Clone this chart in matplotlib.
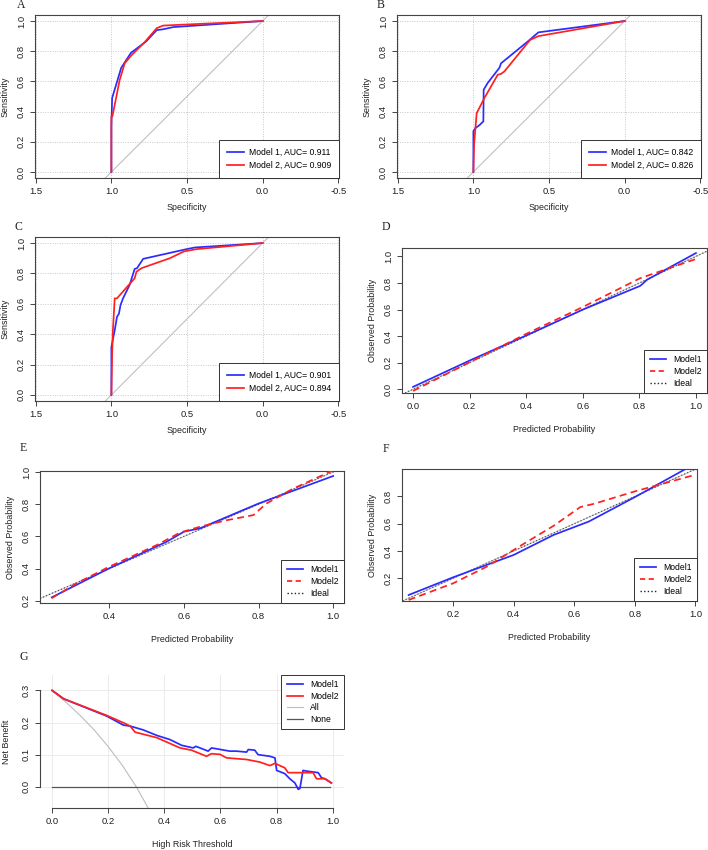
import matplotlib
matplotlib.use("Agg")
import matplotlib.pyplot as plt

plt.rcParams['font.family'] = ['Liberation Sans', 'DejaVu Sans']

W, H = 708, 850
DPI = 100

# ---------------- DATA ----------------
# ROC A
a_m1_spec = [1.0, 1.0, 1.0, 0.995, 0.935, 0.87, 0.77, 0.70, 0.66, 0.59, 0.0]
a_m1_sens = [0.0, 0.17, 0.30, 0.49, 0.69, 0.79, 0.865, 0.94, 0.945, 0.96, 1.0]
a_m2_spec = [1.0, 1.0, 0.993, 0.945, 0.912, 0.87, 0.78, 0.70, 0.658, 0.0]
a_m2_sens = [0.0, 0.37, 0.37, 0.61, 0.72, 0.77, 0.86, 0.953, 0.97, 1.0]
a_auc = ["0.911", "0.909"]

# ROC B
b_m1_spec = [1.0, 1.0, 0.987, 0.96, 0.934, 0.932, 0.905, 0.828, 0.817, 0.64, 0.57, 0.0]
b_m1_sens = [0.0, 0.27, 0.29, 0.31, 0.335, 0.545, 0.59, 0.69, 0.72, 0.865, 0.925, 1.0]
b_m2_spec = [1.0, 0.995, 0.978, 0.927, 0.839, 0.817, 0.795, 0.625, 0.57, 0.0]
b_m2_sens = [0.0, 0.19, 0.39, 0.49, 0.644, 0.65, 0.666, 0.875, 0.90, 1.0]
b_auc = ["0.842", "0.826"]

# ROC C
c_m1_spec = [1.0, 1.0, 0.978, 0.963, 0.95, 0.94, 0.923, 0.879, 0.846, 0.83, 0.79, 0.503, 0.448, 0.0]
c_m1_sens = [0.0, 0.315, 0.425, 0.514, 0.535, 0.59, 0.636, 0.725, 0.83, 0.835, 0.896, 0.96, 0.971, 1.0]
c_m2_spec = [1.0, 0.995, 0.99, 0.978, 0.963, 0.846, 0.834, 0.80, 0.614, 0.52, 0.437, 0.0]
c_m2_sens = [0.0, 0.27, 0.425, 0.636, 0.636, 0.768, 0.812, 0.835, 0.90, 0.945, 0.96, 1.0]
c_auc = ["0.901", "0.894"]

# Calibration D
d_m1_x = [0.0, 0.203, 0.403, 0.603, 0.803, 0.827, 1.0]
d_m1_y = [0.018, 0.219, 0.408, 0.602, 0.778, 0.824, 1.025]
d_m2_x = [0.0, 0.203, 0.403, 0.603, 0.803, 0.897, 1.0]
d_m2_y = [-0.013, 0.207, 0.42, 0.622, 0.836, 0.905, 0.98]

# Calibration E
e_m1_x = [0.2455, 0.40, 0.554, 0.60, 0.643, 0.80, 1.0]
e_m1_y = [0.221, 0.402, 0.567, 0.629, 0.65, 0.804, 0.975]
e_m2_x = [0.2455, 0.3125, 0.40, 0.527, 0.589, 0.643, 0.714, 0.786, 0.821, 0.893, 1.0]
e_m2_y = [0.216, 0.309, 0.412, 0.546, 0.623, 0.66, 0.70, 0.732, 0.804, 0.897, 1.01]

# Calibration F
f_m1_x = [0.0535, 0.20, 0.40, 0.532, 0.648, 0.80, 0.973]
f_m1_y = [0.0775, 0.207, 0.371, 0.518, 0.616, 0.795, 1.008]
f_m2_x = [0.0535, 0.20, 0.312, 0.40, 0.532, 0.62, 0.665, 0.80, 1.0]
f_m2_y = [0.041, 0.163, 0.286, 0.408, 0.585, 0.722, 0.746, 0.837, 0.959]

# Decision curve G
g_m1_t = [0.0, 0.041, 0.195, 0.254, 0.278, 0.325, 0.373, 0.42, 0.462, 0.503, 0.512, 0.527,
          0.556, 0.568, 0.633, 0.657, 0.693, 0.699, 0.722, 0.734, 0.776, 0.794, 0.80, 0.829,
          0.847, 0.865, 0.877, 0.883, 0.894, 0.906, 0.948, 0.96, 0.972, 0.995]
g_m1_nb = [0.30, 0.274, 0.22, 0.192, 0.189, 0.177, 0.16, 0.147, 0.129, 0.121, 0.126, 0.121,
           0.111, 0.121, 0.111, 0.111, 0.108, 0.116, 0.114, 0.10, 0.095, 0.09, 0.051, 0.041,
           0.025, 0.012, -0.008, -0.005, 0.051, 0.049, 0.044, 0.028, 0.025, 0.012]
g_m2_t = [0.0, 0.041, 0.195, 0.26, 0.278, 0.296, 0.373, 0.456, 0.497, 0.55, 0.568, 0.598,
          0.622, 0.693, 0.74, 0.776, 0.794, 0.829, 0.841, 0.93, 0.942, 0.972, 0.995]
g_m2_nb = [0.30, 0.274, 0.222, 0.197, 0.189, 0.17, 0.153, 0.121, 0.114, 0.095, 0.103, 0.101,
           0.09, 0.085, 0.077, 0.066, 0.073, 0.059, 0.044, 0.044, 0.025, 0.025, 0.012]
g_all_t = [0.0, 0.05, 0.10, 0.15, 0.20, 0.25, 0.30, 0.345]
g_all_nb = [0.30, 0.263, 0.222, 0.177, 0.125, 0.067, 0.0, -0.07]
g_none_t = [0.0, 0.99]
g_none_nb = [0.0, 0.0]

roc_xticks = [1.5, 1.0, 0.5, 0.0, -0.5]
roc_yticks = [0.0, 0.2, 0.4, 0.6, 0.8, 1.0]

# ---------------- STYLE ----------------
BLUE = '#2B2BFF'
RED = '#FF2020'
FRAME = '#444444'
TICK_FS = 6.8
LAB_FS = 6.4
LEG_FS = 6.2

fig = plt.figure(figsize=(W / DPI, H / DPI), dpi=DPI)


def rect(l, t, r, b):
    return [l / W, 1 - b / H, (r - l) / W, (b - t) / H]


def style_axes(ax, box=True):
    for s in ax.spines.values():
        s.set_color(FRAME)
        s.set_linewidth(0.8)
        s.set_visible(box)
    ax.tick_params(axis='both', direction='out', length=3.5, width=0.7, color=FRAME,
                   labelsize=TICK_FS, labelcolor='#222222', pad=3)
    ax.tick_params(axis='y', labelrotation=90)
    for lbl in ax.get_yticklabels():
        lbl.set_va('center')


def fmt(v):
    return f"{v:.1f}"


def letter(x, y, s):
    fig.text(x / W, 1 - y / H, s, family='Liberation Serif', fontsize=8.5,
             ha='center', va='center', color='#222222')


def small_legend(ax, handles, labels, loc, anchor, spacing):
    leg = ax.legend(handles, labels, loc=loc, bbox_to_anchor=anchor, borderaxespad=0,
                    fontsize=LEG_FS, frameon=True, fancybox=False, edgecolor='#333333',
                    framealpha=1, handlelength=1.95, borderpad=0.6, labelspacing=spacing,
                    handletextpad=0.8)
    leg.get_frame().set_linewidth(0.7)
    return leg


def roc_panel(r, m1s, m1y, m2s, m2y, aucs):
    ax = fig.add_axes(rect(*r))
    ax.set_xlim(1.505, -0.505)
    ax.set_ylim(-0.04, 1.04)
    for v in roc_xticks:
        ax.axvline(v, color='#C8C8C8', lw=0.7, ls=(0, (1, 1.5)), zorder=0)
    for v in roc_yticks:
        ax.axhline(v, color='#C8C8C8', lw=0.7, ls=(0, (1, 1.5)), zorder=0)
    ax.axline((1.0, 0.0), (0.0, 1.0), color='#C0C0C0', lw=0.8, zorder=1)
    ax.plot(m1s, m1y, color=BLUE, lw=1.25, label=f"Model 1, AUC= {aucs[0]}", zorder=3)
    ax.plot(m2s, m2y, color=RED, lw=1.25, label=f"Model 2, AUC= {aucs[1]}", zorder=3)
    ax.set_xticks(roc_xticks)
    ax.set_xticklabels([fmt(v) for v in roc_xticks])
    ax.set_yticks(roc_yticks)
    ax.set_yticklabels([fmt(v) for v in roc_yticks])
    style_axes(ax)
    ax.set_xlabel("Specificity", fontsize=LAB_FS, color='#222222', labelpad=5)
    ax.set_ylabel("Sensitivity", fontsize=LAB_FS, color='#222222', labelpad=5)
    leg = ax.legend(loc='lower right', bbox_to_anchor=(1, 0), borderaxespad=0,
                    fontsize=LEG_FS, frameon=True, fancybox=False, edgecolor='#333333',
                    framealpha=1, handlelength=2.0, borderpad=0.9, labelspacing=0.5,
                    handletextpad=0.6)
    leg.get_frame().set_linewidth(0.7)
    return ax


def cal_panel(r, xlim, ylim, xt, yt, m1x, m1y, m2x, m2y):
    ax = fig.add_axes(rect(*r))
    ax.set_xlim(*xlim)
    ax.set_ylim(*ylim)
    ax.axline((0, 0), (1, 1), color='#BBBBBB', lw=0.6, zorder=1)
    ax.axline((0, 0), (1, 1), color='#555555', lw=0.9, ls=(0, (1, 1.6)), zorder=2)
    ax.plot(m1x, m1y, color=BLUE, lw=1.25, zorder=3)
    ax.plot(m2x, m2y, color=RED, lw=1.25, ls=(0, (4, 2.5)), zorder=3)
    ax.set_xticks(xt)
    ax.set_xticklabels([fmt(v) for v in xt])
    ax.set_yticks(yt)
    ax.set_yticklabels([fmt(v) for v in yt])
    style_axes(ax)
    ax.set_xlabel("Predicted Probability", fontsize=LAB_FS, color='#222222', labelpad=10)
    ax.set_ylabel("Observed Probability", fontsize=LAB_FS, color='#222222', labelpad=5)
    h1, = ax.plot([], [], color=BLUE, lw=1.25)
    h2, = ax.plot([], [], color=RED, lw=1.25, ls=(0, (3, 2)))
    h3, = ax.plot([], [], color='#222222', lw=1.0, ls=(0, (1, 1.6)))
    small_legend(ax, [h1, h2, h3], ["Model1", "Model2", "Ideal"], 'lower right', (1, 0), 0.35)
    return ax


# A, B, C
roc_panel((35, 15, 339, 178), a_m1_spec, a_m1_sens, a_m2_spec, a_m2_sens, a_auc)
roc_panel((397, 15, 701, 178), b_m1_spec, b_m1_sens, b_m2_spec, b_m2_sens, b_auc)
roc_panel((35, 237, 339, 401), c_m1_spec, c_m1_sens, c_m2_spec, c_m2_sens, c_auc)

# D, E, F
cal_panel((402, 248, 707, 393), (-0.039, 1.039), (-0.028, 1.063),
          [0.0, 0.2, 0.4, 0.6, 0.8, 1.0], [0.0, 0.2, 0.4, 0.6, 0.8, 1.0],
          d_m1_x, d_m1_y, d_m2_x, d_m2_y)
cal_panel((40, 471, 344, 603), (0.214, 1.029), (0.186, 1.006),
          [0.4, 0.6, 0.8, 1.0], [0.2, 0.4, 0.6, 0.8, 1.0],
          e_m1_x, e_m1_y, e_m2_x, e_m2_y)
cal_panel((402, 469, 697, 601), (0.0315, 1.005), (0.0335, 1.001),
          [0.2, 0.4, 0.6, 0.8, 1.0], [0.2, 0.4, 0.6, 0.8],
          f_m1_x, f_m1_y, f_m2_x, f_m2_y)

# G decision curve
ax = fig.add_axes(rect(40, 675, 344, 808))
ax.set_xlim(-0.043, 1.04)
ax.set_ylim(-0.066, 0.348)
g_xt = [0.0, 0.2, 0.4, 0.6, 0.8, 1.0]
g_yt = [0.0, 0.1, 0.2, 0.3]
for v in g_xt:
    ax.axvline(v, color='#EBEBEB', lw=0.7, zorder=0)
for v in g_yt:
    ax.axhline(v, color='#EBEBEB', lw=0.7, zorder=0)
h_all, = ax.plot(g_all_t, g_all_nb, color='#BDBDBD', lw=0.8, zorder=2)
h_none, = ax.plot(g_none_t, g_none_nb, color='#555555', lw=0.9, zorder=2)
h_m1, = ax.plot(g_m1_t, g_m1_nb, color=BLUE, lw=1.25, zorder=3)
h_m2, = ax.plot(g_m2_t, g_m2_nb, color=RED, lw=1.25, zorder=3)
ax.set_xticks(g_xt)
ax.set_xticklabels([fmt(v) for v in g_xt])
ax.set_yticks(g_yt)
ax.set_yticklabels([fmt(v) for v in g_yt])
style_axes(ax, box=False)
ax.spines['left'].set_visible(True)
ax.spines['bottom'].set_visible(True)
ax.spines['left'].set_bounds(0.0, 0.3)
ax.spines['bottom'].set_bounds(0.0, 1.0)
ax.set_xlabel("High Risk Threshold", fontsize=LAB_FS, color='#222222', labelpad=10)
ax.set_ylabel("Net Benefit", fontsize=LAB_FS, color='#222222', labelpad=8)
small_legend(ax, [h_m1, h_m2, h_all, h_none], ["Model1", "Model2", "All", "None"],
             'upper right', (1, 1), 0.3)

# panel letters
letter(21, 5, 'A')
letter(381, 5, 'B')
letter(18, 227, 'C')
letter(386, 227, 'D')
letter(23, 448, 'E')
letter(386, 449, 'F')
letter(24, 657, 'G')

fig.savefig("out.png", dpi=DPI)
